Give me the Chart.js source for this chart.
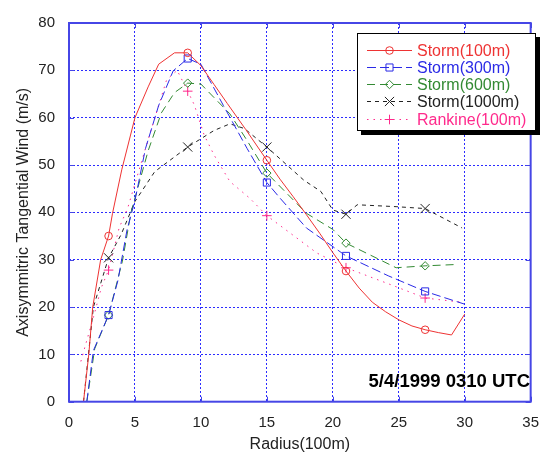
<!DOCTYPE html>
<html>
<head>
<meta charset="utf-8">
<script src="https://cdn.jsdelivr.net/npm/chart.js@4.4.0/dist/chart.umd.min.js"></script>
<style>
    html, body { margin: 0; padding: 0; background: #fff; }
    #chart { display: block; }
</style>
</head>
<body>
<canvas id="chart" width="551" height="456"></canvas>
<script>
// Radius (100m) / wind (m/s)
const storm100R = [1.1, 1.5, 1.8, 2.4, 3, 3.3, 4, 5, 6, 6.8, 8, 9, 10, 11, 12, 13.4, 15, 16, 17, 18, 19, 20, 21, 22, 23, 24, 25, 26, 27, 28, 29, 30];
const storm100V = [0, 10, 20, 30, 35, 39.8, 49, 60, 66.5, 71.3, 73.7, 73.7, 71, 67, 63, 57.5, 51, 47, 43.3, 39.5, 35.6, 31.5, 27.6, 24, 21, 19, 17.3, 16, 15.2, 14.6, 14.1, 18.5];

const storm300R = [1.35, 1.85, 3, 3.7, 4.4, 5, 5.8, 6.8, 7.9, 9, 10, 11.7, 13.5, 15, 16, 18, 21, 24.2, 27, 30];
const storm300V = [0, 10.8, 18.3, 25.5, 36.3, 42.5, 53.5, 62.6, 69.9, 72.5, 71.3, 62.6, 53.5, 46.3, 43, 36.7, 30.8, 26.6, 23.3, 20.6];

const storm600R = [1.35, 1.95, 3, 4.05, 4.7, 6, 7, 8, 9, 10, 12.2, 13.45, 15, 18, 20, 21, 24.8, 27, 29.5];
const storm600V = [0, 11.2, 18.3, 29.7, 40, 53, 61, 65.3, 67.3, 67.1, 60.8, 55.4, 48.3, 39.8, 36.4, 33.5, 28.3, 28.7, 29];

const storm1000R = [1.1, 1.85, 3, 3.95, 5, 6.5, 9, 11, 12.2, 13.3, 15, 17.8, 19.1, 20, 21, 21.85, 24.8, 27, 29.8];
const storm1000V = [0, 20, 30.4, 35.3, 42.3, 48.6, 53.8, 57.3, 58.7, 57.7, 53.8, 46.8, 44.4, 40.5, 39.6, 41.6, 41.2, 40.8, 36.7];

const rankineR = [0.9, 1.2, 1.85, 2.45, 3, 3.8, 4.45, 5.8, 6.8, 7.4, 8.2, 9, 9.5, 10.25, 11, 12.2, 13.7, 15, 18.8, 21, 24.6, 27, 29.8];
const rankineV = [8.5, 11.5, 17.8, 24.1, 27.8, 36.7, 40.9, 53.5, 62.6, 68, 70, 65.6, 62.7, 56.3, 52.1, 46.5, 43, 39.3, 31.4, 28.3, 24.5, 21.9, 21];

// radii that carry a marker
const markerR = [3, 9, 15, 21, 27];

const seriesLabels = ['Storm(100m)', 'Storm(300m)', 'Storm(600m)', 'Storm(1000m)', 'Rankine(100m)'];
const seriesR = [storm100R, storm300R, storm600R, storm1000R, rankineR];
const seriesV = [storm100V, storm300V, storm600V, storm1000V, rankineV];

const stampText = '5/4/1999 0310 UTC';
const xTitle = 'Radius(100m)';
const yTitle = 'Axisymmitric Tangential Wind (m/s)';

// line / marker looks
const styles = [
    { color: '#ee3333', dash: [], point: 'circle', size: 3.8 },
    { color: '#2a2ae6', dash: [9, 4], point: 'rect', size: 5 },
    { color: '#338a33', dash: [8, 5], point: 'rectRot', size: 4.2 },
    { color: '#222222', dash: [4, 4], point: 'crossRot', size: 6.5 },
    { color: '#ff2a8c', dash: [1.5, 5], point: 'cross', size: 4.8 }
];

const FONT = 'Liberation Sans, Arial, sans-serif';
const gridColor = '#2b2bff';
const frameColor = '#4646e6';

const datasets = seriesR.map((rs, i) => ({
    label: seriesLabels[i],
    data: rs.map((r, j) => ({ x: r, y: seriesV[i][j] })),
    borderColor: styles[i].color,
    borderDash: styles[i].dash,
    borderWidth: 1,
    pointStyle: styles[i].point,
    pointRadius: ctx => (ctx.raw && markerR.includes(ctx.raw.x)) ? styles[i].size : 0,
    pointBorderColor: styles[i].color,
    pointBackgroundColor: 'rgba(0,0,0,0)',
    pointBorderWidth: 1,
    tension: 0,
    fill: false
}));

// frame, inward ticks, legend and time stamp
const framePlugin = {
    id: 'frame',
    afterDraw(chart) {
        const { ctx, chartArea: a, scales } = chart;
        ctx.save();

        // inward ticks
        ctx.strokeStyle = frameColor;
        ctx.lineWidth = 1;
        ctx.setLineDash([]);
        scales.x.ticks.forEach(t => {
            const px = Math.round(scales.x.getPixelForValue(t.value)) + 0.5;
            ctx.beginPath();
            ctx.moveTo(px, a.bottom); ctx.lineTo(px, a.bottom - 5);
            ctx.moveTo(px, a.top); ctx.lineTo(px, a.top + 5);
            ctx.stroke();
        });
        scales.y.ticks.forEach(t => {
            const py = Math.round(scales.y.getPixelForValue(t.value)) + 0.5;
            ctx.beginPath();
            ctx.moveTo(a.left, py); ctx.lineTo(a.left + 5, py);
            ctx.moveTo(a.right, py); ctx.lineTo(a.right - 5, py);
            ctx.stroke();
        });

        // box
        ctx.lineWidth = 2;
        ctx.strokeRect(a.left, a.top, a.right - a.left, a.bottom - a.top);

        // legend
        const lx = 357, ly = 33, lw = 179, lh = 98;
        ctx.fillStyle = '#000';
        ctx.fillRect(lx + 4, ly + 4, lw, lh);
        ctx.fillStyle = '#fff';
        ctx.fillRect(lx, ly, lw, lh);
        ctx.strokeStyle = '#000';
        ctx.lineWidth = 1;
        ctx.strokeRect(lx + 0.5, ly + 0.5, lw - 1, lh - 1);

        ctx.font = '16px ' + FONT;
        ctx.textBaseline = 'middle';
        ctx.textAlign = 'left';
        seriesLabels.forEach((label, i) => {
            const s = styles[i];
            const y = Math.round(ly + 16.5 + i * 17.3) + 0.5;
            ctx.strokeStyle = s.color;
            ctx.lineWidth = 1;
            ctx.setLineDash(s.dash);
            ctx.beginPath();
            ctx.moveTo(367, y);
            ctx.lineTo(412, y);
            ctx.stroke();
            ctx.setLineDash([]);
            ctx.fillStyle = 'rgba(0,0,0,0)';
            Chart.helpers.drawPoint(ctx, { pointStyle: s.point, rotation: 0, radius: s.size, borderWidth: 1 }, 389.5, y);
            ctx.fillStyle = s.color;
            ctx.fillText(label, 417, y + 1);
        });

        // time stamp
        ctx.font = 'bold 18.5px ' + FONT;
        ctx.fillStyle = '#000';
        ctx.textAlign = 'right';
        ctx.textBaseline = 'alphabetic';
        ctx.fillText(stampText, 530, 387);

        ctx.restore();
    }
};

const chart = new Chart(document.getElementById('chart'), {
    type: 'line',
    data: { datasets },
    options: {
        responsive: false,
        animation: false,
        layout: { padding: { top: 20, right: 10.5, left: 0, bottom: 0 } },
        plugins: {
            legend: { display: false },
            tooltip: { enabled: false }
        },
        scales: {
            x: {
                type: 'linear',
                min: 0,
                max: 35,
                ticks: { stepSize: 5, color: '#222', font: { family: FONT, size: 15 }, padding: 12, maxRotation: 0 },
                grid: { color: gridColor, drawTicks: false, lineWidth: 1 },
                border: { display: false, dash: [2, 2] },
                title: { display: true, text: xTitle, color: '#222', font: { family: FONT, size: 16 }, padding: { top: 0, bottom: 2 } },
                afterFit(scale) { scale.height = 54.3; }
            },
            y: {
                min: 0,
                max: 80,
                ticks: { stepSize: 10, color: '#222', font: { family: FONT, size: 15 }, padding: 14 },
                grid: { color: gridColor, drawTicks: false, lineWidth: 1 },
                border: { display: false, dash: [2, 2] },
                title: { display: true, text: yTitle, color: '#222', font: { family: FONT, size: 16 }, padding: { top: 14, bottom: 0 } },
                afterFit(scale) { scale.width = 69; }
            }
        }
    },
    plugins: [framePlugin]
});
</script>
</body>
</html>
